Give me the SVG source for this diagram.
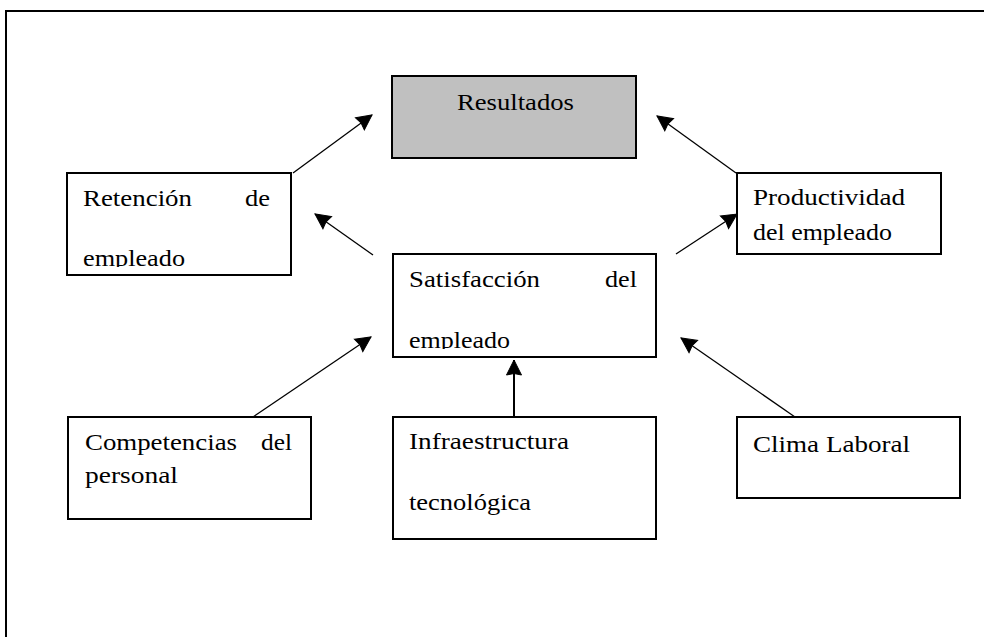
<svg xmlns="http://www.w3.org/2000/svg" width="984" height="637" viewBox="0 0 984 637">
<style>
.box{fill:#ffffff;stroke:#000000;stroke-width:2}
.gray{fill:#c0c0c0}
.t{font-family:"Liberation Serif","Times New Roman",serif;font-size:23px;fill:#000000}
.c{stroke:#000000;stroke-width:1.3;fill:none;marker-end:url(#ah)}
</style>
<defs>
<marker id="ah" markerUnits="userSpaceOnUse" markerWidth="18" markerHeight="18" refX="15" refY="8" orient="auto" overflow="visible">
<path d="M0,0.5 L15,8 L0,15.5 L1.5,8 Z" fill="#000000" stroke="#000000" stroke-width="1"/>
</marker>
<clipPath id="clipRet"><rect x="60" y="170" width="240" height="97"/></clipPath>
<clipPath id="clipSat"><rect x="390" y="250" width="270" height="99"/></clipPath>
</defs>
<rect x="0" y="0" width="984" height="637" fill="#ffffff"/>
<path d="M6,640 V11 H990" fill="none" stroke="#000000" stroke-width="2"/>

<g id="connectors">
<line class="c" x1="293" y1="173" x2="372" y2="115"/>
<line class="c" x1="736" y1="173" x2="657" y2="116"/>
<line class="c" x1="373" y1="255" x2="315" y2="214"/>
<line class="c" x1="676" y1="254" x2="737" y2="214"/>
<line class="c" x1="253" y1="417" x2="371" y2="337"/>
<line class="c" x1="514" y1="417" x2="514" y2="360" style="stroke-width:2"/>
<line class="c" x1="795" y1="417" x2="681" y2="338"/>
</g>

<g id="resultados">
<rect class="box gray" x="392" y="76" width="244" height="82"/>
<text class="t" x="457" y="110" textLength="117" lengthAdjust="spacingAndGlyphs">Resultados</text>
</g>

<g id="retencion">
<rect class="box" x="67" y="173" width="224" height="102"/>
<text class="t" x="83" y="206" textLength="109" lengthAdjust="spacingAndGlyphs">Retención</text>
<text class="t" x="245" y="206" textLength="25" lengthAdjust="spacingAndGlyphs">de</text>
<text class="t" x="83" y="266" textLength="102" lengthAdjust="spacingAndGlyphs" clip-path="url(#clipRet)">empleado</text>
</g>

<g id="productividad">
<rect class="box" x="737" y="173" width="204" height="81"/>
<text class="t" x="753" y="205" textLength="152" lengthAdjust="spacingAndGlyphs">Productividad</text>
<text class="t" x="753" y="240" textLength="139" lengthAdjust="spacingAndGlyphs">del empleado</text>
</g>

<g id="satisfaccion">
<rect class="box" x="393" y="254" width="263" height="103"/>
<text class="t" x="409" y="287" textLength="131" lengthAdjust="spacingAndGlyphs">Satisfacción</text>
<text class="t" x="605" y="287" textLength="32" lengthAdjust="spacingAndGlyphs">del</text>
<text class="t" x="409" y="348" textLength="101" lengthAdjust="spacingAndGlyphs" clip-path="url(#clipSat)">empleado</text>
</g>

<g id="competencias">
<rect class="box" x="68" y="417" width="243" height="102"/>
<text class="t" x="85" y="450" textLength="152" lengthAdjust="spacingAndGlyphs">Competencias</text>
<text class="t" x="261" y="450" textLength="31" lengthAdjust="spacingAndGlyphs">del</text>
<text class="t" x="85" y="483" textLength="93" lengthAdjust="spacingAndGlyphs">personal</text>
</g>

<g id="infraestructura">
<rect class="box" x="393" y="417" width="263" height="122"/>
<text class="t" x="409" y="449" textLength="160" lengthAdjust="spacingAndGlyphs">Infraestructura</text>
<text class="t" x="409" y="510" textLength="122" lengthAdjust="spacingAndGlyphs">tecnológica</text>
</g>

<g id="clima">
<rect class="box" x="737" y="417" width="223" height="81"/>
<text class="t" x="753" y="452" textLength="157" lengthAdjust="spacingAndGlyphs">Clima Laboral</text>
</g>
</svg>
